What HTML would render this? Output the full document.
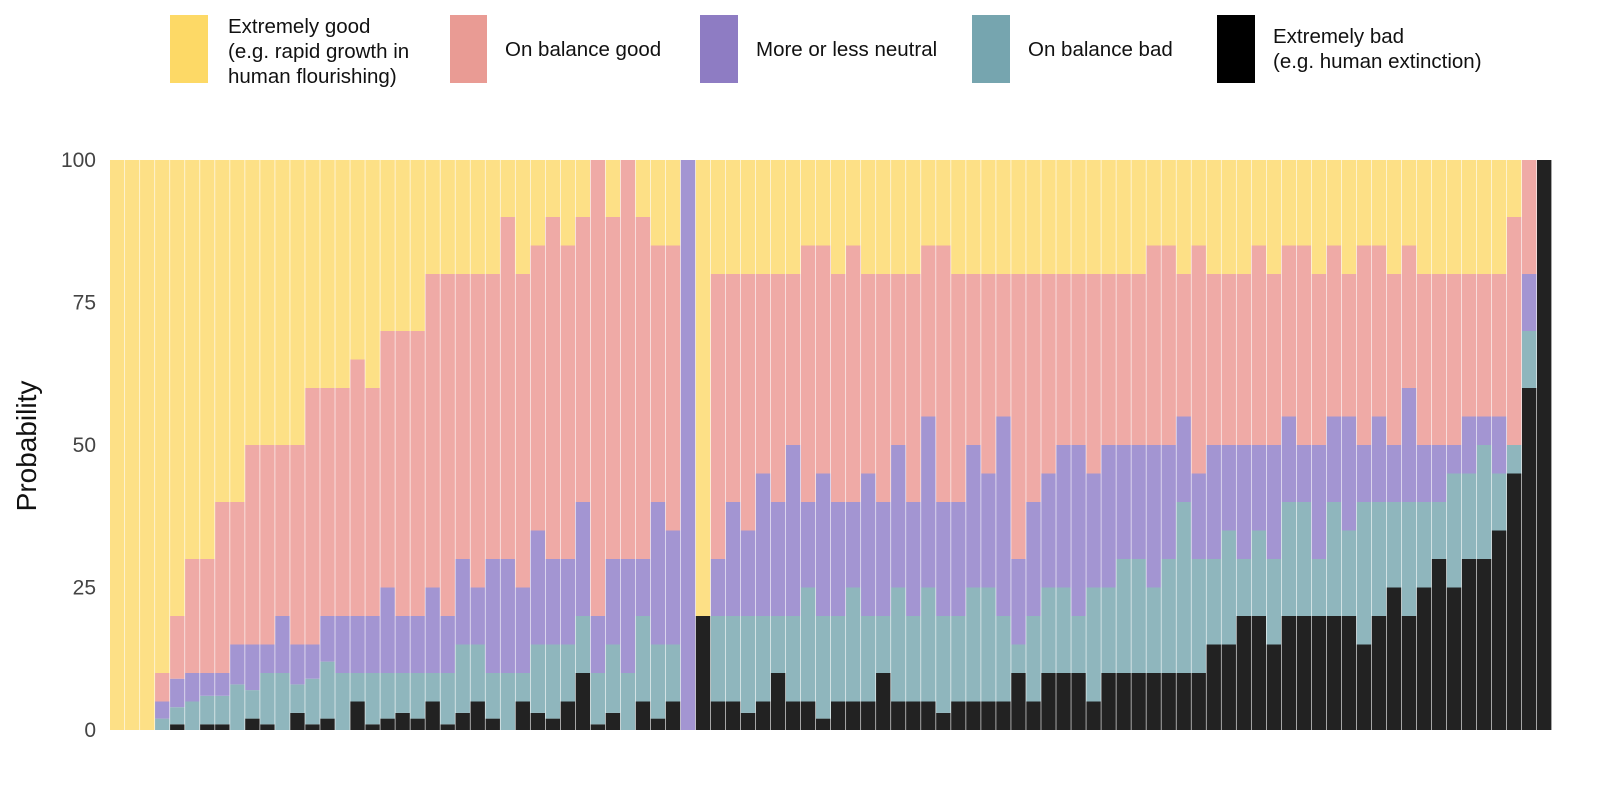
<!DOCTYPE html>
<html><head><meta charset="utf-8"><style>
body{margin:0;background:#fff;width:1600px;height:802px;overflow:hidden;font-family:"Liberation Sans",sans-serif}
</style></head><body>
<svg id="chart" width="1600" height="802" xmlns="http://www.w3.org/2000/svg">
<g font-size="20.5" fill="#111">
<g><rect x="170" y="15" width="38" height="68" fill="#fdd966"/><text x="228" y="33">Extremely good</text><text x="228" y="58">(e.g. rapid growth in</text><text x="228" y="83">human flourishing)</text></g>
<g><rect x="450" y="15" width="37" height="68" fill="#e99b94"/><text x="505" y="56">On balance good</text></g>
<g><rect x="700" y="15" width="38" height="68" fill="#8e7cc3"/><text x="756" y="56">More or less neutral</text></g>
<g><rect x="972" y="15" width="38" height="68" fill="#76a5af"/><text x="1028" y="56">On balance bad</text></g>
<g><rect x="1217" y="15" width="38" height="68" fill="#000"/><text x="1273" y="43">Extremely bad</text><text x="1273" y="68">(e.g. human extinction)</text></g>
</g>
<text transform="translate(36,446) rotate(-90)" text-anchor="middle" font-size="28" fill="#111">Probability</text>
<g id="yticks" font-size="21" fill="#444" text-anchor="end"></g>
<g id="bars"></g>
</svg>
<script>
const tickValues=[0,25,50,75,100];
const extBad=[0,0,0,0,1,0,1, 1,0,2,1,0,3,1,2,0,5,1,2,3, 2,5,1,3,5,2,0,5,3,2,5,10, 1,3,0,5,2,5,0, 20,5,5,3,5,10,5,5,2,5,5,5,10,5,5,5,3,5,5,5,5, 10,5,10,10,10,5,10,10,10,10,10,10,10,15, 15,20,20,15,20,20,20,20,20,15,20,25,20, 25,30,25,30,30,35, 45,60,100];
const obBad=[0,0,0,2,3,5,5, 5,8,5,9,10,5,8,10,10,5,9,8,7, 8,5,9,12,10,8,10,5,12,13,10,10, 9,12,10,15,13,10,0, 0,15,15,17,15,10,15,20,18,15,20,15,10,20,15,20,17,15,20,20,15, 5,15,15,15,10,20,15,20,20,15,20,30,20,15, 20,10,15,15,20,20,10,20,15,25,20,15,20, 15,10,20,15,20,10, 5,10,0];
const neutral=[0,0,0,3,5,5,4, 4,7,8,5,10,7,6,8,10,10,10,15,10, 10,15,10,15,10,20,20,15,20,15,15,20, 10,15,20,10,25,20,100, 0,10,20,15,25,20,30,15,25,20,15,25,20,25,20,30,20,20,25,20,35, 15,20,20,25,30,20,25,20,20,25,20,15,15,20, 15,20,15,20,15,10,20,15,20,10,15,10,20, 10,10,5,10,5,10, 0,10,0];
const obGood=[0,0,0,5,11,20,20, 30,25,35,35,30,35,45,40,40,45,40,45,50, 50,55,60,50,55,50,60,55,50,60,55,50, 80,60,70,60,45,50,0, 0,50,40,45,35,40,30,45,40,40,45,35,40,30,40,30,45,40,30,35,25, 50,40,35,30,30,35,30,30,30,35,35,25,40,30, 30,30,35,30,30,35,30,30,25,35,30,30,25, 30,30,30,25,25,25, 40,20,0];
const extGood=[100,100,100,90,80,70,70, 60,60,50,50,50,50,40,40,40,35,40,30,30, 30,20,20,20,20,20,10,20,15,10,15,10, 0,10,0,10,15,15,0, 80,20,20,20,20,20,20,15,15,20,15,20,20,20,20,15,15,20,20,20,20, 20,20,20,20,20,20,20,20,20,15,15,20,15,20, 20,20,15,20,15,15,20,15,20,15,15,20,15, 20,20,20,20,20,20, 10,0,0];
const series=[extBad,obBad,neutral,obGood,extGood];
const seriesNames=['extremely-bad','on-balance-bad','neutral','on-balance-good','extremely-good'];
const colors=['#222222','#8fb6bd','#a395d2','#efaaa6','#fde086'];
const X0=110,X1=1552,Y0=730,Y1=160;
const n=extBad.length;
const bw=(X1-X0)/n;
const xs=i=>X0+i*bw;
const ys=v=>Y0-(Y0-Y1)*v/100;
const NS='http://www.w3.org/2000/svg';
const yt=document.getElementById('yticks');
tickValues.forEach(v=>{const t=document.createElementNS(NS,'text');


t.setAttribute('x',96);t.setAttribute('y',ys(v)+7);t.textContent=v;yt.appendChild(t);});
const g=document.getElementById('bars');
for(let i=0;i<n;i++){let cum=0;
for(let s=0;s<series.length;s++){const v=series[s][i];if(v<=0)continue;
const r=document.createElementNS(NS,'rect');


r.setAttribute('x',xs(i));r.setAttribute('width',bw-0.6);
r.setAttribute('y',ys(cum+v));r.setAttribute('height',ys(cum)-ys(cum+v));
r.setAttribute('fill',colors[s]);g.appendChild(r);cum+=v;}}
</script>
</body></html>
